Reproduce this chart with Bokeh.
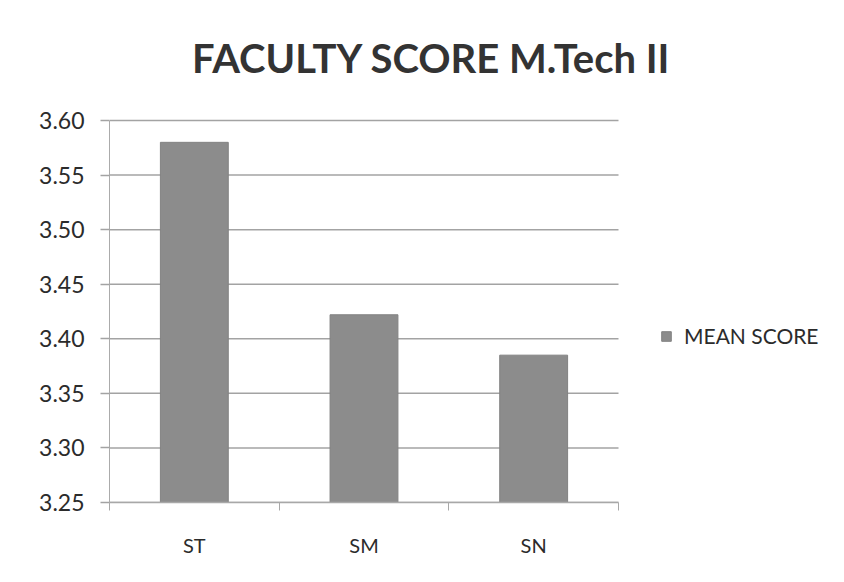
from bokeh.plotting import figure
from bokeh.models import (Range1d, FixedTicker, LinearAxis, Label, Legend, LegendItem,
                          ColumnDataSource, PrintfTickFormatter)
from bokeh.embed import file_html
from bokeh.resources import INLINE

categories = ["ST", "SM", "SN"]
mean_score = [3.58, 3.422, 3.385]
y_ticks = [3.25, 3.30, 3.35, 3.40, 3.45, 3.50, 3.55, 3.60]
series_name = "MEAN SCORE"
title_text = "FACULTY SCORE M.Tech II"

FONT = "Lato"
TXT = "#2b2b2b"
GRID = "#a3a3a3"

W, H = 836, 574
LEFT, BOTTOM = 109, H - 502
FRAME_W, FRAME_H = W - LEFT, H - BOTTOM
PLOT_W = 509          # width of the bar area in pixels
PLOT_TOP = 120        # pixel row of the top tick
n = len(categories)
x_end = n * FRAME_W / PLOT_W
px_per_unit = (FRAME_H - PLOT_TOP) / (y_ticks[-1] - y_ticks[0])
y_end = y_ticks[-1] + PLOT_TOP / px_per_unit

p = figure(width=W, height=H, output_backend="svg", toolbar_location=None,
           x_range=Range1d(0, x_end), y_range=Range1d(y_ticks[0], y_end),
           min_border_left=LEFT, min_border_right=0, min_border_top=0,
           min_border_bottom=BOTTOM)
p.outline_line_color = None
p.background_fill_color = "white"
p.border_fill_color = "white"
p.xgrid.grid_line_color = None
p.ygrid.grid_line_color = None

# horizontal gridlines limited to the bar area
p.segment(x0=[0] * len(y_ticks), x1=[n] * len(y_ticks), y0=y_ticks, y1=y_ticks,
          line_color=GRID, line_width=1.5)

xc = [i + 0.5 for i in range(n)]
src = ColumnDataSource(dict(x=xc, top=mean_score))
r = p.vbar(x="x", top="top", bottom=y_ticks[0], width=0.4, source=src,
           fill_color="#8c8c8c", line_color="#828282", line_width=1)

# y axis
yax = p.yaxis[0]
yax.bounds = (y_ticks[0], y_ticks[-1])
yax.ticker = FixedTicker(ticks=y_ticks)
yax.formatter = PrintfTickFormatter(format="%.2f")
yax.axis_line_color = "#ababab"
yax.major_tick_line_color = GRID
yax.major_tick_line_width = 1.5
yax.major_tick_out = 9
yax.major_tick_in = 0
yax.minor_tick_line_color = None
yax.major_label_standoff = 16
yax.major_label_text_font = FONT
yax.major_label_text_font_size = "23px"
yax.major_label_text_color = TXT

# x axis: ticks at category boundaries
bounds_ticks = list(range(n + 1))
xax = p.xaxis[0]
xax.bounds = (0, n)
xax.ticker = FixedTicker(ticks=bounds_ticks)
xax.major_label_overrides = {t: "" for t in bounds_ticks}
xax.axis_line_color = "#a8a8a8"
xax.axis_line_width = 1.5
xax.major_tick_line_color = "#a8a8a8"
xax.major_tick_out = 8
xax.major_tick_in = 0
xax.minor_tick_line_color = None
xax.major_label_standoff = 0

# x axis labels at category centres
lab_ax = LinearAxis(ticker=FixedTicker(ticks=xc),
                    major_label_overrides={x: c for x, c in zip(xc, categories)})
lab_ax.axis_line_color = None
lab_ax.major_tick_line_color = None
lab_ax.minor_tick_line_color = None
lab_ax.major_label_standoff = 16
lab_ax.major_label_text_font = FONT
lab_ax.major_label_text_font_size = "20px"
lab_ax.major_label_text_color = TXT
p.add_layout(lab_ax, "below")

# legend
legend = Legend(items=[LegendItem(label=series_name, renderers=[r])],
                location=(551, 154), orientation="vertical")
legend.background_fill_alpha = 0
legend.border_line_color = None
legend.margin = 0
legend.padding = 0
legend.label_text_font = FONT
legend.label_text_font_size = "21px"
legend.label_text_color = TXT
legend.glyph_width = 12
legend.glyph_height = 12
legend.label_standoff = 12
p.add_layout(legend, "center")

# title
title = Label(x=322, y=445, x_units="screen", y_units="screen", text=title_text,
              text_font=FONT, text_font_style="bold", text_font_size="40px",
              text_color="#333333", text_align="center", text_baseline="middle")
p.add_layout(title)

open("out.html", "w").write(file_html(p, INLINE))
